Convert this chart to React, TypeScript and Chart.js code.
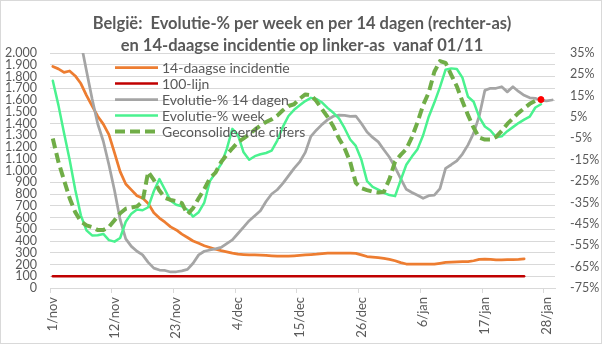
import React, { useEffect, useRef } from "react";
import { Chart, registerables } from "chart.js";

Chart.register(...registerables);

const FONT = "Lato, 'Liberation Sans', sans-serif";
const TEXT = "#595959";
const GRID = "#d9d9d9";

const titleLines = [
  "België:  Evolutie-% per week en per 14 dagen (rechter-as)",
  "en 14-daagse incidentie op linker-as  vanaf 01/11",
];

// months covered by the category axis (1/nov .. 29/jan)
const monthNames = ["nov", "dec", "jan"];
const monthLengths = [30, 31, 31];
const dayCount = 90;
const labelEvery = 11;

function dayLabel(i: number): string {
  let day = i + 1;
  for (let m = 0; m < monthNames.length; m++) {
    if (day <= monthLengths[m]) return `${day}/${monthNames[m]}`;
    day -= monthLengths[m];
  }
  return "";
}
const categories: string[] = Array.from({ length: dayCount }, (_, i) => dayLabel(i));

const seriesLabels = [
  "14-daagse incidentie",
  "100-lijn",
  "Evolutie-% 14 dagen",
  "Evolutie-% week",
  "Geconsolideerde cijfers",
];

// left axis
const incidentie14 = [
  1885, 1865, 1835, 1847, 1805, 1740, 1640, 1550, 1462, 1395,
  1305, 1150, 990, 885, 835, 785, 765, 720, 640, 595,
  560, 520, 494, 458, 430, 400, 380, 360, 345, 330,
  318, 308, 297, 288, 285, 282, 281, 280, 277, 274,
  272, 272, 272, 274, 277, 281, 285, 288, 293, 296,
  297, 297, 297, 297, 295, 282, 268, 263, 258, 252,
  244, 232, 216, 204, 203, 203, 203, 203, 203, 210,
  218, 220, 222, 224, 224, 232, 244, 246, 244, 240,
  240, 241, 242, 244, 248,
];

const lijn100 = [
  100, 100, 100, 100, 100, 100, 100, 100, 100, 100,
  100, 100, 100, 100, 100, 100, 100, 100, 100, 100,
  100, 100, 100, 100, 100, 100, 100, 100, 100, 100,
  100, 100, 100, 100, 100, 100, 100, 100, 100, 100,
  100, 100, 100, 100, 100, 100, 100, 100, 100, 100,
  100, 100, 100, 100, 100, 100, 100, 100, 100, 100,
  100, 100, 100, 100, 100, 100, 100, 100, 100, 100,
  100, 100, 100, 100, 100, 100, 100, 100, 100, 100,
  100, 100, 100, 100, 100,
];

// right axis (%)
const evolutie14 = [
  100, 92, 80, 68, 54, 40, 26.7, 13.6, 1.9, -6.3,
  -17.3, -29.4, -43, -52, -55.5, -57.8, -59.5, -63, -65.7, -66.6,
  -66.8, -67.5, -67.4, -67, -66.3, -63.4, -59.5, -57.8, -57.2, -56.7,
  -56, -54.2, -52.5, -49.5, -46.5, -43.5, -41.2, -38.8, -34.5, -31,
  -29, -26, -22.5, -19, -16, -11.5, -4, -1, 1.6, 3.8,
  5.4, 5.9, 5.8, 5.3, 5.5, 2, -2, -4.5, -6.6, -10.3,
  -13.8, -18.5, -23.8, -28.8, -30.3, -31.6, -33, -31.8, -31.5, -28.5,
  -19, -17.3, -15.5, -12.3, -8, -2.5, 5.5, 17.5, 18.5, 18.5,
  19.2, 16.8, 19.2, 17, 15.2, 14, 13.8, 12.8, 12.6, 13,
];

const evolutieWeek = [
  22, 10.6, -2.5, -15, -29, -41, -48, -50.4, -50.3, -49.7,
  -52.6, -53.3, -51.6, -44, -40.2, -38.3, -38.6, -37.2, -29.7, -24,
  -29, -34.2, -36, -36.7, -38.4, -41.6, -39.5, -35, -25, -21,
  -17, -10, -0.5, -3.4, -11.5, -15, -13.3, -12.4, -11.8, -10.7,
  -6, 0.4, 5.5, 8.4, 10.5, 12.5, 14, 13.5, 11.8, 9.2,
  7, 4.4, -0.2, -5.5, -8.5, -15, -25, -27.7, -28.9, -30.5,
  -31.5, -32, -24.5, -17.3, -13.5, -10, -3.5, 5.2, 11.8, 19,
  27.2, 27.8, 27.5, 23.5, 14.5, 12.2, 5, 0.6, -1.3, -4.4,
  -4, -1.6, 0.3, 2.2, 3.8, 5.2, 9.5, 11,
];

const geconsolideerd = [
  -5, -16, -24.5, -33, -39.5, -43.8, -45.7, -46.5, -47.9, -47.9,
  -46.4, -43.3, -40, -37.9, -37.3, -36.8, -34.5, -20.6, -24.4, -29.4,
  -32.8, -33.8, -34.3, -35.3, -40.5, -37.6, -33, -28.7, -23.6, -21,
  -16, -12.6, -9.6, -6.8, -5, -3, -0.9, 1, 2.7, 3.9,
  5.7, 8.2, 10.2, 11, 13.6, 15.6, 15.3, 12.4, 8.6, 5,
  0.6, -5, -9.5, -16, -25.8, -28.3, -29.2, -29.9, -30.3, -30,
  -24, -15.8, -12.7, -10, -4.4, 2.6, 10.6, 16.5, 26.2, 31.2,
  30.4, 24.8, 19.4, 12.4, 5.9, 0, -4.6, -5.5, -5.5, -4.3,
  -1.4, 1.8, 4.4, 7, 9.1, 11.2, 12.6, 13.2,
];

const leftTicks = { min: 0, max: 2000, step: 100 };
const rightTicks = { min: -75, max: 35, step: 10 };

function formatThousands(v: number): string {
  if (v >= 1000) {
    const rest = String(v % 1000).padStart(3, "0");
    return `${Math.floor(v / 1000)}.${rest}`;
  }
  return String(v);
}

const frameTitleLegend = {
  id: "frameTitleLegend",
  beforeDraw(chart: any) {
    const ctx = chart.ctx;
    ctx.save();
    ctx.fillStyle = "#ffffff";
    ctx.fillRect(0, 0, chart.width, chart.height);
    ctx.restore();
  },
  afterDraw(chart: any) {
    const ctx = chart.ctx;
    ctx.save();
    // border
    ctx.strokeStyle = GRID;
    ctx.lineWidth = 1;
    ctx.strokeRect(0.5, 0.5, chart.width - 1, chart.height - 1);
    // title
    ctx.fillStyle = TEXT;
    ctx.font = `bold 16.5px ${FONT}`;
    ctx.textAlign = "center";
    ctx.textBaseline = "middle";
    ctx.fillText(titleLines[0], 302, 24);
    ctx.fillText(titleLines[1], 302, 46);
    // legend
    const order = [0, 1, 2, 3, 4];
    order.forEach((dsIndex, row) => {
      const ds = chart.data.datasets[dsIndex];
      const y = 67.5 + row * 16;
      ctx.beginPath();
      ctx.strokeStyle = ds.borderColor;
      ctx.lineWidth = ds.borderWidth;
      ctx.lineCap = "butt";
      ctx.setLineDash(ds.borderDash || []);
      ctx.moveTo(115, y);
      ctx.lineTo(158, y);
      ctx.stroke();
      ctx.setLineDash([]);
      ctx.fillStyle = TEXT;
      ctx.font = `14px ${FONT}`;
      ctx.textAlign = "left";
      ctx.textBaseline = "middle";
      ctx.fillText(ds.label, 162, y + 0.5);
    });
    ctx.restore();
  },
};

export default function App() {
  const ref = useRef<HTMLCanvasElement | null>(null);

  useEffect(() => {
    document.body.style.margin = "0";
    const canvas = ref.current;
    if (!canvas) return;
    const chart = new Chart(canvas, {
      type: "line",
      data: {
        labels: categories,
        datasets: [
          {
            label: seriesLabels[0],
            data: incidentie14,
            yAxisID: "y",
            borderColor: "#ED7D31",
            borderWidth: 2.75,
            order: 4,
          },
          {
            label: seriesLabels[1],
            data: lijn100,
            yAxisID: "y",
            borderColor: "#C00000",
            borderWidth: 2.5,
            order: 3,
          },
          {
            label: seriesLabels[2],
            data: evolutie14,
            yAxisID: "y1",
            borderColor: "#A5A5A5",
            borderWidth: 2.75,
            order: 2,
          },
          {
            label: seriesLabels[3],
            data: evolutieWeek,
            yAxisID: "y1",
            borderColor: "#4AF28F",
            borderWidth: 2.5,
            order: 1,
          },
          {
            label: seriesLabels[4],
            data: geconsolideerd,
            yAxisID: "y1",
            borderColor: "#70AD47",
            borderWidth: 4,
            borderDash: [10, 5],
            borderCapStyle: "butt",
            order: 0,
            pointRadius: (c: any) => (c.dataIndex === geconsolideerd.length - 1 ? 3 : 0),
            pointBackgroundColor: "#FF0000",
            pointBorderColor: "#FF0000",
            pointBorderWidth: 1,
          },
        ],
      } as any,
      options: {
        responsive: false,
        animation: false,
        events: [],
        layout: { padding: { top: 53, left: 0, right: 0, bottom: 0 } },
        elements: {
          point: { radius: 0, hoverRadius: 0 },
          line: { tension: 0, borderJoinStyle: "round", borderCapStyle: "round" },
        },
        plugins: {
          legend: { display: false },
          title: { display: false },
          tooltip: { enabled: false },
        },
        scales: {
          x: {
            type: "category",
            offset: true,
            grid: {
              offset: true,
              drawOnChartArea: false,
              drawTicks: true,
              tickLength: 5,
              color: (c: any) => (c.index % labelEvery === 0 ? GRID : "rgba(0,0,0,0)"),
              tickColor: (c: any) => (c.index % labelEvery === 0 ? GRID : "rgba(0,0,0,0)"),
            },
            border: { display: true, color: GRID },
            ticks: {
              autoSkip: false,
              maxRotation: 90,
              minRotation: 90,
              padding: 4,
              color: TEXT,
              font: { family: FONT, size: 13 },
              callback: (_v: any, i: number) => (i % labelEvery === 0 ? categories[i] : ""),
            },
            afterFit: (s: any) => {
              s.height = 56;
            },
          },
          y: {
            position: "left",
            min: leftTicks.min,
            max: leftTicks.max,
            grid: { color: GRID, drawTicks: false },
            border: { display: false },
            ticks: {
              stepSize: leftTicks.step,
              autoSkip: false,
              padding: 13,
              color: TEXT,
              font: { family: FONT, size: 12.5, lineHeight: 1 },
              callback: (v: any) => formatThousands(Number(v)),
            },
            afterFit: (s: any) => {
              s.width = 50;
            },
          },
          y1: {
            position: "right",
            min: rightTicks.min,
            max: rightTicks.max,
            grid: { drawOnChartArea: false, drawTicks: false },
            border: { display: false },
            ticks: {
              stepSize: rightTicks.step,
              autoSkip: false,
              padding: 15,
              color: TEXT,
              font: { family: FONT, size: 12.5, lineHeight: 1 },
              callback: (v: any) => `${v}%`,
            },
            afterFit: (s: any) => {
              s.width = 47;
            },
          },
        },
      } as any,
      plugins: [frameTitleLegend],
    });
    return () => chart.destroy();
  }, []);

  return (
    <div style={{ position: "relative", width: 602, height: 344 }}>
      <canvas ref={ref} width={602} height={344} style={{ display: "block" }} />
    </div>
  );
}
